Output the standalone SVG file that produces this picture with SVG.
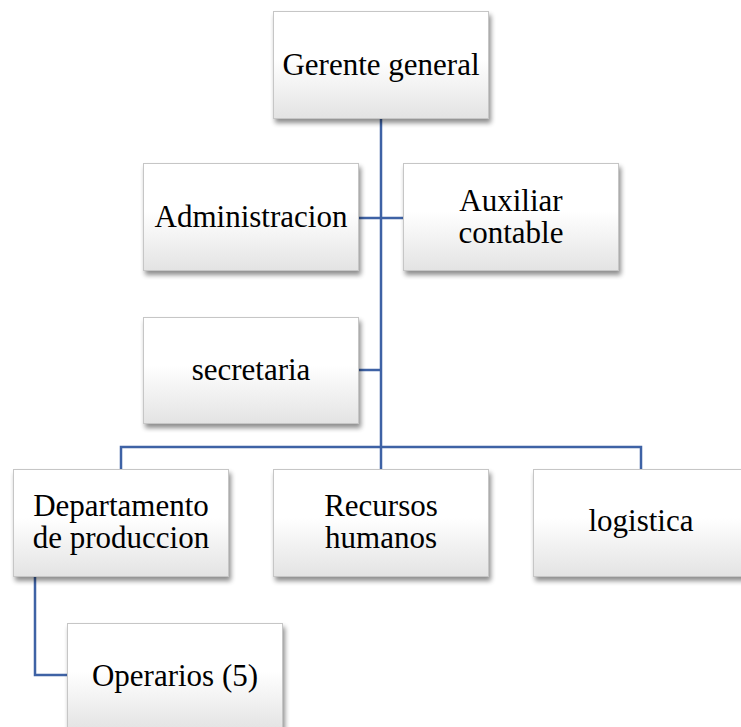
<svg xmlns="http://www.w3.org/2000/svg" width="741" height="727" viewBox="0 0 741 727">
<defs>
<linearGradient id="g" x1="0" y1="0" x2="0" y2="1">
<stop offset="0" stop-color="#ffffff"/>
<stop offset="0.45" stop-color="#ffffff"/>
<stop offset="1" stop-color="#e3e3e3"/>
</linearGradient>
<filter id="sh" x="-10%" y="-10%" width="125%" height="130%">
<feGaussianBlur in="SourceAlpha" stdDeviation="2.5"/>
<feOffset dx="2" dy="4" result="b"/>
<feComponentTransfer><feFuncA type="linear" slope="0.45"/></feComponentTransfer>
<feMerge><feMergeNode/><feMergeNode in="SourceGraphic"/></feMerge>
</filter>
</defs>
<style>
.box{fill:url(#g);stroke:#c6c6c6;stroke-width:1;filter:url(#sh)}
.t{font-family:'Liberation Serif',serif;font-size:31px;fill:#000;text-anchor:middle}
.c{fill:none;stroke:#3e62a5;stroke-width:2.5}
</style>
<rect width="741" height="727" fill="#fff"/>
<g id="connectors">
<path class="c" d="M381 118 V447"/>
<path class="c" d="M359 218 H403"/>
<path class="c" d="M359 370 H381"/>
<path class="c" d="M121 470 V447 H641 V470"/>
<path class="c" d="M381 447 V470"/>
<path class="c" d="M35 577 V675 H67"/>
</g>
<g id="gerente">
<rect class="box" x="273.5" y="11.5" width="215" height="107"/>
<text class="t" x="381" y="75">Gerente general</text>
</g>
<g id="administracion">
<rect class="box" x="143.5" y="163.5" width="215" height="107"/>
<text class="t" x="251" y="227">Administracion</text>
</g>
<g id="auxiliar">
<rect class="box" x="403.5" y="163.5" width="215" height="107"/>
<text class="t" x="511" y="211">Auxiliar</text>
<text class="t" x="511" y="243">contable</text>
</g>
<g id="secretaria">
<rect class="box" x="143.5" y="317.5" width="215" height="106"/>
<text class="t" x="251" y="380">secretaria</text>
</g>
<g id="departamento">
<rect class="box" x="13.5" y="469.5" width="215" height="107"/>
<text class="t" x="121" y="516">Departamento</text>
<text class="t" x="121" y="548">de produccion</text>
</g>
<g id="recursos">
<rect class="box" x="273.5" y="469.5" width="215" height="107"/>
<text class="t" x="381" y="516">Recursos</text>
<text class="t" x="381" y="548">humanos</text>
</g>
<g id="logistica">
<rect class="box" x="533.5" y="469.5" width="215" height="107"/>
<text class="t" x="641" y="531">logistica</text>
</g>
<g id="operarios">
<rect class="box" x="67.5" y="623.5" width="215" height="107"/>
<text class="t" x="175" y="686">Operarios (5)</text>
</g>
</svg>
